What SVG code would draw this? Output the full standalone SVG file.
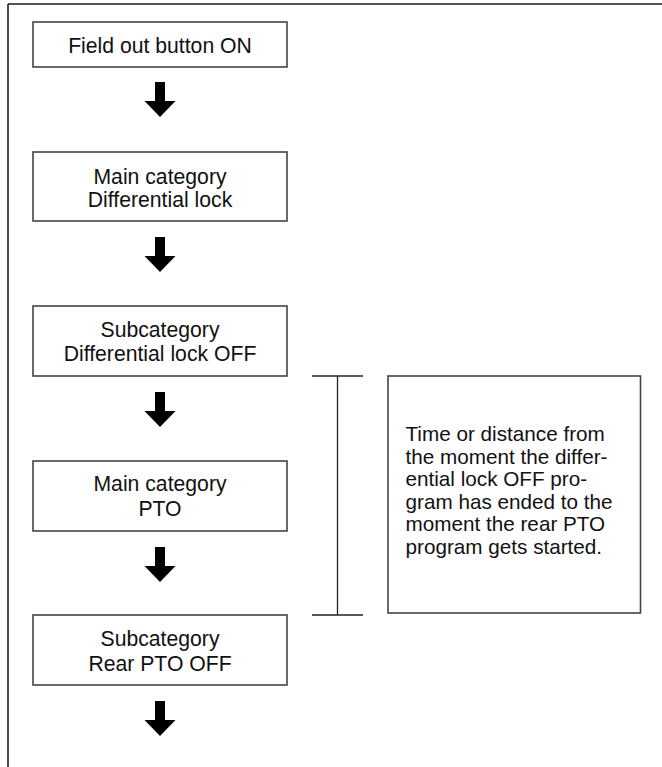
<svg xmlns="http://www.w3.org/2000/svg" width="662" height="767" viewBox="0 0 662 767">
<style>
.box{fill:#fff;stroke:#444;stroke-width:1.6}
.t{font-family:"Liberation Sans",Arial,sans-serif;font-size:21.2px;fill:#111;text-anchor:middle}
.tl{font-family:"Liberation Sans",Arial,sans-serif;font-size:20.7px;fill:#111}
.ln{stroke:#222;stroke-width:1.3;fill:none}
</style>
<defs>
<path id="arr" d="M-5,0 H5 V19 H15.5 L0,35 L-15.5,19 H-5 Z" fill="#000"/>
</defs>
<rect width="662" height="767" fill="#fff"/>
<g id="frame">
<line x1="8" y1="4" x2="662" y2="4" stroke="#555" stroke-width="2"/>
<line x1="8" y1="4" x2="8" y2="767" stroke="#111" stroke-width="1.5"/>
</g>
<g id="connectors">
<use href="#arr" x="160" y="82"/>
<use href="#arr" x="160" y="237"/>
<use href="#arr" x="160" y="392"/>
<use href="#arr" x="160" y="547"/>
<use href="#arr" x="160" y="701"/>
<path class="ln" d="M312,376 H363 M337.5,376 V615 M312,615 H363"/>
</g>
<g id="n1">
<rect class="box" x="33" y="22" width="254" height="45"/>
<text class="t" x="160" y="53">Field out button ON</text>
</g>
<g id="n2">
<rect class="box" x="33" y="152" width="254" height="69"/>
<text class="t" x="160" y="184">Main category</text>
<text class="t" x="160" y="207">Differential lock</text>
</g>
<g id="n3">
<rect class="box" x="33" y="306" width="254" height="70"/>
<text class="t" x="160" y="337">Subcategory</text>
<text class="t" x="160" y="361">Differential lock OFF</text>
</g>
<g id="n4">
<rect class="box" x="33" y="461" width="254" height="70"/>
<text class="t" x="160" y="491">Main category</text>
<text class="t" x="160" y="516">PTO</text>
</g>
<g id="n5">
<rect class="box" x="33" y="615" width="254" height="70"/>
<text class="t" x="160" y="646">Subcategory</text>
<text class="t" x="160" y="671">Rear PTO OFF</text>
</g>
<g id="note">
<rect class="box" x="388" y="376" width="252.5" height="237"/>
<text class="tl" x="405.5" y="441">Time or distance from</text>
<text class="tl" x="405.5" y="463.5">the moment the differ-</text>
<text class="tl" x="405.5" y="486">ential lock OFF pro-</text>
<text class="tl" x="405.5" y="508.5">gram has ended to the</text>
<text class="tl" x="405.5" y="531">moment the rear PTO</text>
<text class="tl" x="405.5" y="553.5">program gets started.</text>
</g>
</svg>
